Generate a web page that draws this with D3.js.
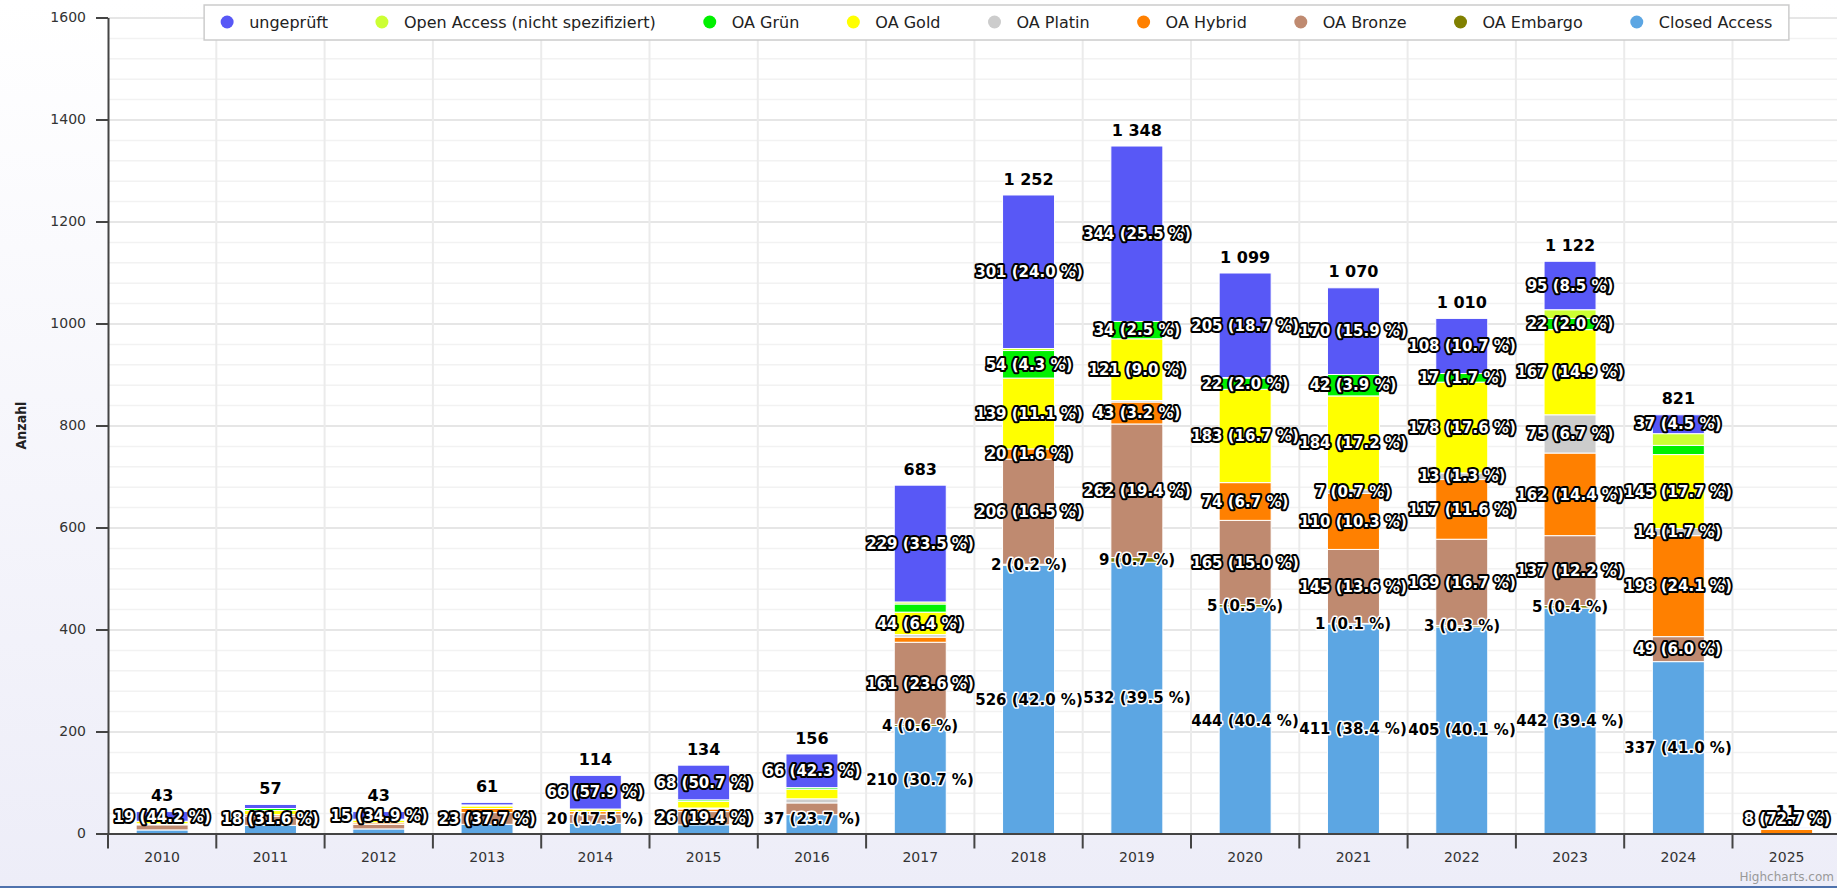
<!DOCTYPE html>
<html lang="de">
<head>
<meta charset="utf-8">
<title>Publikationen nach Open-Access-Status</title>
<script src="https://cdn.jsdelivr.net/npm/d3@7/dist/d3.min.js"></script>
<style>
    html, body { margin: 0; padding: 0; overflow: hidden; background: #fff; }
    svg text { font-family: "DejaVu Sans", Verdana, sans-serif; }
</style>
</head>
<body>
<script>
// 1. Data
let years = ['2010', '2011', '2012', '2013', '2014', '2015', '2016', '2017',
             '2018', '2019', '2020', '2021', '2022', '2023', '2024', '2025'];

// legend order = top of the stack first
let seriesNames = ['ungeprüft', 'Open Access (nicht spezifiziert)', 'OA Grün', 'OA Gold',
                   'OA Platin', 'OA Hybrid', 'OA Bronze', 'OA Embargo', 'Closed Access'];
let seriesColors = ['#5858f6', '#ccff33', '#00f000', '#ffff00',
                    '#cccccc', '#ff8000', '#bf8a70', '#808000', '#5ca6e3'];

let ungeprueft    = [19,  8, 15,  5, 66, 68, 66, 229, 301, 344, 205, 170, 108,  95,  37, 2];
let oaUnspecified = [ 0,  0,  0,  0,  0,  0,  0,   4,   4,   0,   1,   0,   0,  17,  23, 0];
let oaGreen       = [ 0,  4,  2,  2,  0,  3,  3,  16,  54,  34,  22,  42,  17,  22,  18, 0];
let oaGold        = [ 5,  8,  5,  5,  5, 13, 19,  44, 139, 121, 183, 184, 178, 167, 145, 1];
let oaPlatin      = [ 0,  0,  0,  0,  0,  2,  8,   5,   0,   3,   0,   7,  13,  75,  14, 0];
let oaHybrid      = [ 2,  3,  3,  8,  5,  5,  0,  10,  20,  43,  74, 110, 117, 162, 198, 8];
let oaBronze      = [10, 18,  9, 23, 18, 26, 23, 161, 206, 262, 165, 145, 169, 137,  49, 0];
let oaEmbargo     = [ 0,  0,  0,  0,  0,  0,  0,   4,   2,   9,   5,   1,   3,   5,   0, 0];
let closedAccess  = [ 7, 16,  9, 18, 20, 17, 37, 210, 526, 532, 444, 411, 405, 442, 337, 0];

let yTicks = [0, 200, 400, 600, 800, 1000, 1200, 1400, 1600];
let yAxisTitle = 'Anzahl';
let creditText = 'Highcharts.com';

let seriesValues = [ungeprueft, oaUnspecified, oaGreen, oaGold, oaPlatin,
                    oaHybrid, oaBronze, oaEmbargo, closedAccess];

// labels on these series are black with a white halo, the rest white with a black halo
let darkLabelSeries = ['Closed Access', 'OA Embargo'];

// 2. Layout
let width = 1837, height = 888;
let plotLeft = 108, plotTop = 17.5, plotBottom = 833.5;
let plotRight = plotLeft + years.length * 108.3;

let rows = years.map((year, i) => {
    let row = {year: year};
    seriesNames.forEach((name, s) => row[name] = seriesValues[s][i]);
    return row;
});
let totals = years.map((year, i) => d3.sum(seriesValues, v => v[i]));

// d3.stack puts the first key at the bottom, so reverse the legend order
let layers = d3.stack().keys(seriesNames.slice().reverse())(rows);

let x = d3.scaleBand().domain(years).range([plotLeft, plotRight]);
let y = d3.scaleLinear().domain([0, 1600]).range([plotBottom, plotTop]);
let colorOf = d3.scaleOrdinal().domain(seriesNames).range(seriesColors);

let barWidth = 52;
let fmtTotal = d3.formatLocale({decimal: '.', thousands: ' ', grouping: [3], currency: ['', '']}).format(',d');
let fmtPct = d3.format('.1f');

let svg = d3.select('body').append('svg')
    .attr('width', width)
    .attr('height', height);

// 3. Background
let defs = svg.append('defs');
let bg = defs.append('linearGradient').attr('id', 'bg')
    .attr('x1', 0).attr('y1', 0).attr('x2', 0).attr('y2', 1);
bg.append('stop').attr('offset', '0%').attr('stop-color', '#ffffff');
bg.append('stop').attr('offset', '100%').attr('stop-color', '#ededf8');

svg.append('rect')
    .attr('width', width)
    .attr('height', height)
    .attr('fill', 'url(#bg)');

svg.append('rect')
    .attr('x', plotLeft)
    .attr('y', plotTop)
    .attr('width', plotRight - plotLeft)
    .attr('height', plotBottom - plotTop)
    .attr('fill', '#fff');

svg.append('line')
    .attr('x1', 0).attr('x2', width)
    .attr('y1', height - 1).attr('y2', height - 1)
    .attr('stroke', '#4f72ad')
    .attr('stroke-width', 2);

// 4. Grid lines
let minorTicks = d3.range(40, 1600, 40).filter(v => v % 200 !== 0);

svg.append('g')
    .attr('transform', `translate(${plotLeft},0)`)
    .call(d3.axisLeft(y).tickValues(minorTicks).tickSize(-(plotRight - plotLeft)).tickFormat(''))
    .call(g => g.select('.domain').remove())
    .call(g => g.selectAll('line').attr('stroke', '#f2f2f2').attr('stroke-width', 1.5));

svg.append('g')
    .attr('transform', `translate(${plotLeft},0)`)
    .call(d3.axisLeft(y).tickValues(yTicks.slice(1)).tickSize(-(plotRight - plotLeft)).tickFormat(''))
    .call(g => g.select('.domain').remove())
    .call(g => g.selectAll('line').attr('stroke', '#e6e6e6').attr('stroke-width', 2));

let boundaries = years.map(d => x(d)).concat([plotRight]);

svg.append('g')
    .selectAll('line')
    .data(boundaries.slice(1))
    .join('line')
    .attr('x1', d => d).attr('x2', d => d)
    .attr('y1', plotTop).attr('y2', plotBottom)
    .attr('stroke', '#ebebeb')
    .attr('stroke-width', 2);

// 5. Bars
let barGroup = svg.append('g');

layers.forEach(layer => {
    barGroup.append('g')
        .attr('fill', colorOf(layer.key))
        .selectAll('rect')
        .data(layer.filter(d => d[1] - d[0] > 0))
        .join('rect')
        .attr('x', d => x(d.data.year) + x.bandwidth() / 2 - barWidth / 2)
        .attr('y', d => y(d[1]))
        .attr('width', barWidth)
        .attr('height', d => y(d[0]) - y(d[1]))
        .attr('stroke', '#fff')
        .attr('stroke-width', 1);
});

// 6. Axes
let yAxis = svg.append('g')
    .attr('transform', `translate(${plotLeft},0)`)
    .call(d3.axisLeft(y).tickValues(yTicks).tickSizeInner(12).tickSizeOuter(0).tickPadding(10).tickFormat(d3.format('d')));
yAxis.select('.domain').attr('stroke', '#444').attr('stroke-width', 2);
yAxis.selectAll('.tick line').attr('stroke', '#444').attr('stroke-width', 2);
yAxis.selectAll('.tick text')
    .attr('fill', '#333')
    .style('font-size', '14px')
    .style('font-family', '"DejaVu Sans", Verdana, sans-serif');

let xAxis = svg.append('g')
    .attr('transform', `translate(0,${plotBottom})`)
    .call(d3.axisBottom(x).tickSize(0).tickPadding(19));
xAxis.select('.domain').attr('stroke', '#444').attr('stroke-width', 2);
xAxis.selectAll('.tick text')
    .attr('fill', '#333')
    .style('font-size', '14px')
    .style('font-family', '"DejaVu Sans", Verdana, sans-serif');

svg.append('g')
    .selectAll('line')
    .data(boundaries)
    .join('line')
    .attr('x1', d => d).attr('x2', d => d)
    .attr('y1', plotBottom).attr('y2', plotBottom + 15)
    .attr('stroke', '#444')
    .attr('stroke-width', 2);

svg.append('text')
    .attr('transform', `translate(21,${(plotTop + plotBottom) / 2}) rotate(-90)`)
    .attr('text-anchor', 'middle')
    .attr('dy', '0.35em')
    .style('font-family', '"DejaVu Sans Condensed", "DejaVu Sans", sans-serif')
    .style('font-size', '14px')
    .style('font-weight', 'bold')
    .attr('fill', '#222')
    .text(yAxisTitle);

// 7. Stack totals
svg.append('g')
    .selectAll('text')
    .data(years)
    .join('text')
    .attr('x', d => x(d) + x.bandwidth() / 2)
    .attr('y', (d, i) => y(totals[i]) - 16)
    .attr('dy', '0.35em')
    .attr('text-anchor', 'middle')
    .style('font-size', '16px')
    .style('font-weight', 'bold')
    .attr('fill', '#000')
    .text((d, i) => fmtTotal(totals[i]));

// 8. Data labels, hidden where they collide with a bigger one
let labels = [];
layers.forEach(layer => {
    layer.forEach((d, i) => {
        let v = d[1] - d[0];
        if (v <= 0) return;
        let cy = (y(d[0]) + y(d[1])) / 2;
        cy = Math.min(cy, plotBottom - 15);
        labels.push({
            key: layer.key,
            value: v,
            cx: Math.round(x(d.data.year) + x.bandwidth() / 2),
            cy: cy,
            text: `${v} (${fmtPct(v / totals[i] * 100)} %)`
        });
    });
});

let labelGroup = svg.append('g')
    .attr('text-anchor', 'middle')
    .style('font-size', '15px')
    .style('font-weight', 'bold');

let labelNodes = labelGroup.selectAll('text')
    .data(labels)
    .join('text')
    .attr('x', d => d.cx)
    .attr('y', d => d.cy)
    .attr('dy', '0.35em')
    .attr('fill', d => darkLabelSeries.includes(d.key) ? '#000' : '#fff')
    .attr('stroke', d => darkLabelSeries.includes(d.key) ? '#fff' : '#000')
    .attr('stroke-width', d => darkLabelSeries.includes(d.key) ? 3 : 4)
    .attr('stroke-linejoin', 'round')
    .style('paint-order', 'stroke')
    .text(d => d.text);

labelNodes.each(function(d) {
    d.w = this.getComputedTextLength() - 1;
    d.h = 26;
    d.visible = true;
});

let ranked = labels.slice().sort((a, b) => b.value - a.value);
for (let i = 0; i < ranked.length; i++) {
    for (let j = i + 1; j < ranked.length; j++) {
        let a = ranked[i], b = ranked[j];
        if (!a.visible || !b.visible) continue;
        let hit = Math.abs(a.cx - b.cx) < (a.w + b.w) / 2 && Math.abs(a.cy - b.cy) < (a.h + b.h) / 2;
        if (hit) {
            (a.value < b.value ? a : b).visible = false;
        }
    }
}
labelNodes.attr('display', d => d.visible ? null : 'none');

// 9. Legend
let legend = svg.append('g');
let legendBox = legend.append('rect');
let items = legend.selectAll('g')
    .data(seriesNames)
    .join('g');

items.append('circle')
    .attr('r', 6.5)
    .attr('fill', d => colorOf(d));

items.append('text')
    .attr('x', 22)
    .attr('dy', '0.35em')
    .style('font-size', '16px')
    .attr('fill', '#222')
    .text(d => d);

let cursor = 0;
items.each(function(d) {
    d3.select(this).property('offsetX', cursor);
    cursor += 22 + d3.select(this).select('text').node().getComputedTextLength() + 54;
});
let contentEnd = cursor - 54;
let legendLeft = 996.5 - (contentEnd + 6.5) / 2 + 6.5;
items.attr('transform', function() {
    return `translate(${legendLeft + d3.select(this).property('offsetX')},22)`;
});

legendBox
    .attr('x', legendLeft - 6.5 - 16.5)
    .attr('y', 5)
    .attr('width', contentEnd + 6.5 + 33)
    .attr('height', 35)
    .attr('fill', '#fff')
    .attr('stroke', '#cccccc')
    .attr('stroke-width', 1.5);

// 10. Credits
svg.append('text')
    .attr('x', width - 3)
    .attr('y', height - 7)
    .attr('text-anchor', 'end')
    .style('font-size', '12px')
    .attr('fill', '#999')
    .text(creditText);
</script>
</body>
</html>
